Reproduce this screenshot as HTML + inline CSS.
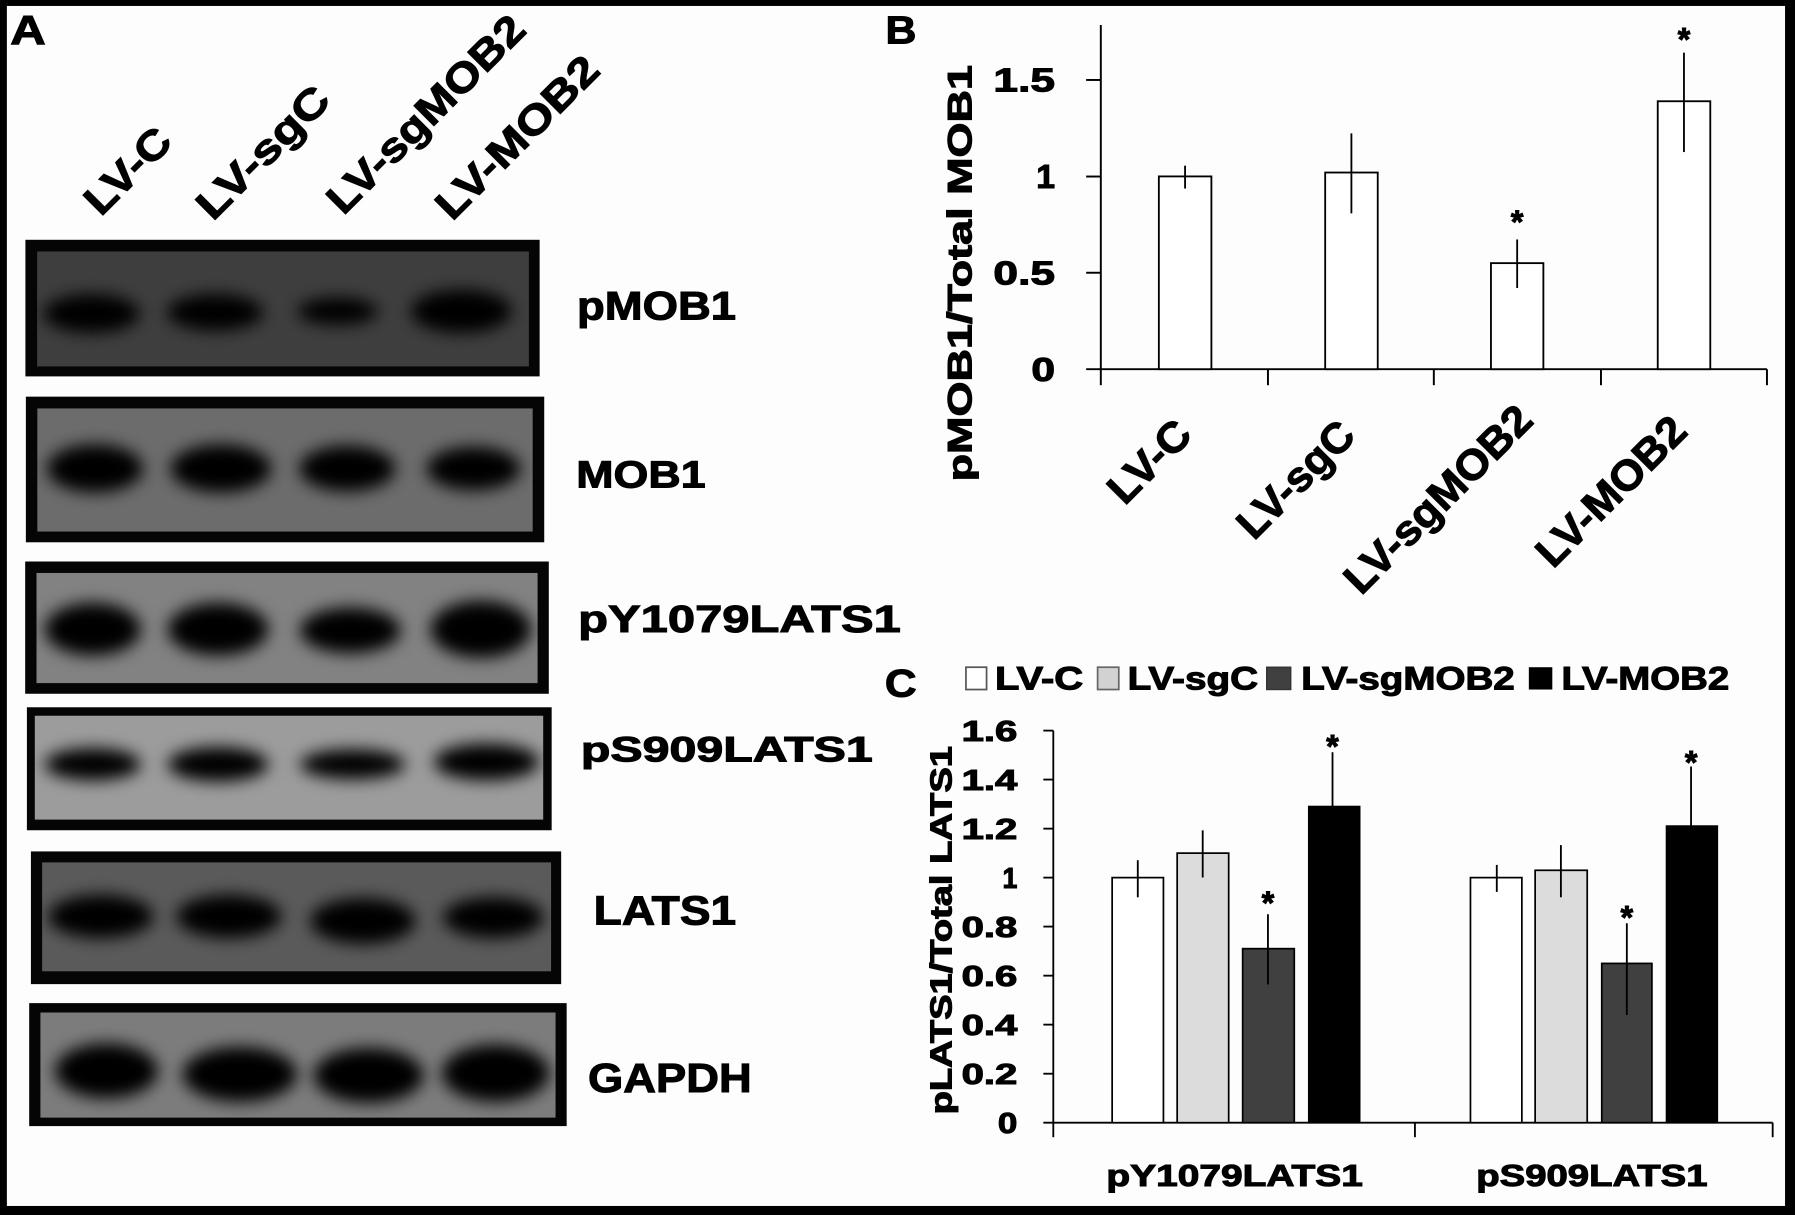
<!DOCTYPE html>
<html><head><meta charset="utf-8"><style>
html,body{margin:0;padding:0;background:#fff;}
svg{display:block;}
text{font-family:"Liberation Sans",Arial,sans-serif;font-weight:bold;fill:#000;stroke:#000;stroke-width:0.9px;}
</style></head><body>
<svg width="1795" height="1215" viewBox="0 0 1568 1062" preserveAspectRatio="none" xmlns="http://www.w3.org/2000/svg">
<defs>
<filter id="bl" x="-50%" y="-100%" width="200%" height="300%"><feGaussianBlur stdDeviation="7"/></filter>
<clipPath id="c1"><rect x="32.4" y="219.8" width="429.6" height="100.5"/></clipPath>
<clipPath id="c2"><rect x="32.6" y="357" width="432.7" height="107.6"/></clipPath>
<clipPath id="c3"><rect x="31.9" y="500.8" width="437.7" height="96.3"/></clipPath>
<clipPath id="c4"><rect x="30.4" y="625.6" width="444.1" height="90.8"/></clipPath>
<clipPath id="c5"><rect x="36.8" y="753.8" width="444.6" height="95.2"/></clipPath>
<clipPath id="c6"><rect x="35.3" y="885" width="450" height="91.9"/></clipPath>
</defs>
<rect x="0" y="0" width="1568" height="1062" fill="#000"/>
<rect x="6" y="5.2" width="1553.3" height="1048.9" fill="#fdfdfd"/>

<!-- Panel A -->
<text x="9" y="38.4" font-size="36" textLength="31" lengthAdjust="spacingAndGlyphs">A</text>
<g font-size="36">
<text transform="translate(88,190) rotate(-45)" textLength="91" lengthAdjust="spacingAndGlyphs">LV-C</text>
<text transform="translate(186,194) rotate(-45)" textLength="148" lengthAdjust="spacingAndGlyphs">LV-sgC</text>
<text transform="translate(300,189) rotate(-45)" textLength="228" lengthAdjust="spacingAndGlyphs">LV-sgMOB2</text>
<text transform="translate(395,194) rotate(-45)" textLength="185" lengthAdjust="spacingAndGlyphs">LV-MOB2</text>
</g>

<!-- blot 1 pMOB1 -->
<rect x="22.2" y="209.6" width="449.2" height="119.4" fill="#050505"/>
<rect x="32.4" y="219.8" width="429.6" height="100.5" fill="#3e3e3e"/>
<g clip-path="url(#c1)" filter="url(#bl)" fill="#000">
<ellipse cx="80" cy="274" rx="42" ry="17"/>
<ellipse cx="188" cy="273" rx="42" ry="16"/>
<ellipse cx="295" cy="272" rx="35" ry="12"/>
<ellipse cx="403" cy="272" rx="44" ry="19"/>
</g>
<!-- blot 2 MOB1 -->
<rect x="22.6" y="346.7" width="452.8" height="127.3" fill="#050505"/>
<rect x="32.6" y="357" width="432.7" height="107.6" fill="#6c6c6c"/>
<g clip-path="url(#c2)" filter="url(#bl)" fill="#000">
<ellipse cx="83" cy="409.5" rx="42" ry="21"/>
<ellipse cx="193" cy="409.5" rx="44" ry="21"/>
<ellipse cx="303.4" cy="409.5" rx="42" ry="20"/>
<ellipse cx="413.7" cy="409.5" rx="41" ry="19"/>
</g>
<!-- blot 3 pY1079 -->
<rect x="22" y="490.8" width="457.4" height="115.6" fill="#050505"/>
<rect x="31.9" y="500.8" width="437.7" height="96.3" fill="#828282"/>
<g clip-path="url(#c3)" filter="url(#bl)" fill="#000">
<ellipse cx="81" cy="550" rx="42" ry="23"/>
<ellipse cx="190.5" cy="550" rx="44" ry="23"/>
<ellipse cx="306" cy="551" rx="44" ry="20"/>
<ellipse cx="420" cy="550" rx="44" ry="25"/>
</g>
<!-- blot 4 pS909 -->
<rect x="23.5" y="618.2" width="458.4" height="107.5" fill="#050505"/>
<rect x="30.4" y="625.6" width="444.1" height="90.8" fill="#9c9c9c"/>
<g clip-path="url(#c4)" filter="url(#bl)" fill="#000">
<ellipse cx="81" cy="668" rx="42" ry="14"/>
<ellipse cx="190.5" cy="668" rx="44" ry="15"/>
<ellipse cx="308" cy="668" rx="46" ry="13"/>
<ellipse cx="425" cy="666" rx="46" ry="16"/>
</g>
<!-- blot 5 LATS1 -->
<rect x="27" y="744.2" width="463.2" height="116" fill="#050505"/>
<rect x="36.8" y="753.8" width="444.6" height="95.2" fill="#5a5a5a"/>
<g clip-path="url(#c5)" filter="url(#bl)" fill="#000">
<ellipse cx="88" cy="801" rx="46" ry="19"/>
<ellipse cx="200" cy="801" rx="46" ry="19"/>
<ellipse cx="317" cy="805" rx="46" ry="20"/>
<ellipse cx="431" cy="802" rx="44" ry="18"/>
</g>
<!-- blot 6 GAPDH -->
<rect x="25.5" y="876.8" width="469.5" height="107.5" fill="#050505"/>
<rect x="35.3" y="885" width="450" height="91.9" fill="#7c7c7c"/>
<g clip-path="url(#c6)" filter="url(#bl)" fill="#000">
<ellipse cx="93" cy="936" rx="45" ry="24"/>
<ellipse cx="209.5" cy="939" rx="50" ry="24"/>
<ellipse cx="322" cy="940" rx="48" ry="24"/>
<ellipse cx="433" cy="938" rx="47" ry="25"/>
</g>

<text x="504" y="279.2" font-size="35" textLength="139" lengthAdjust="spacingAndGlyphs">pMOB1</text>
<text x="503.4" y="426" font-size="33" textLength="113" lengthAdjust="spacingAndGlyphs">MOB1</text>
<text x="505" y="552.6" font-size="33.5" textLength="282" lengthAdjust="spacingAndGlyphs">pY1079LATS1</text>
<text x="507.4" y="665.7" font-size="31" textLength="255" lengthAdjust="spacingAndGlyphs">pS909LATS1</text>
<text x="518.6" y="808.3" font-size="36" textLength="124.5" lengthAdjust="spacingAndGlyphs">LATS1</text>
<text x="513.7" y="954.6" font-size="36" textLength="143" lengthAdjust="spacingAndGlyphs">GAPDH</text>

<!-- Panel B -->
<text x="773.5" y="37.9" font-size="34" textLength="27" lengthAdjust="spacingAndGlyphs">B</text>
<text transform="translate(848.8,238.8) rotate(-90)" text-anchor="middle" font-size="30" textLength="364" lengthAdjust="spacingAndGlyphs">pMOB1/Total MOB1</text>
<g stroke="#000" stroke-width="1.7" fill="none">
<line x1="961.6" y1="21.8" x2="961.6" y2="322.7"/>
<line x1="948.8" y1="322.7" x2="1543.5" y2="322.7"/>
<line x1="948.8" y1="238.4" x2="961.6" y2="238.4"/>
<line x1="948.8" y1="154.3" x2="961.6" y2="154.3"/>
<line x1="948.8" y1="69.9" x2="961.6" y2="69.9"/>
<line x1="961.6" y1="322.7" x2="961.6" y2="336.7"/>
<line x1="1107.6" y1="322.7" x2="1107.6" y2="336.7"/>
<line x1="1252.5" y1="322.7" x2="1252.5" y2="336.7"/>
<line x1="1398.5" y1="322.7" x2="1398.5" y2="336.7"/>
<line x1="1543.5" y1="322.7" x2="1543.5" y2="336.7"/>
</g>
<g font-size="29" text-anchor="end">
<text x="921.6" y="80.1" textLength="53.8" lengthAdjust="spacingAndGlyphs">1.5</text>
<text x="921.6" y="164.5" textLength="16.4" lengthAdjust="spacingAndGlyphs">1</text>
<text x="921.6" y="248.6" textLength="53.8" lengthAdjust="spacingAndGlyphs">0.5</text>
<text x="921.6" y="332.9" textLength="20.7" lengthAdjust="spacingAndGlyphs">0</text>
</g>
<g stroke="#000" stroke-width="1.6" fill="#fff">
<rect x="1012.3" y="154.2" width="45.9" height="168.5"/>
<rect x="1157.6" y="150.8" width="45.9" height="171.9"/>
<rect x="1302.4" y="230" width="45.8" height="92.7"/>
<rect x="1448.1" y="88.5" width="45.9" height="234.2"/>
</g>
<g stroke="#000" stroke-width="1.6">
<line x1="1035.2" y1="144.8" x2="1035.2" y2="164.8"/>
<line x1="1180.5" y1="116.6" x2="1180.5" y2="186.5"/>
<line x1="1325.3" y1="209.3" x2="1325.3" y2="251.7"/>
<line x1="1471" y1="46" x2="1471" y2="132.9"/>
</g>
<g font-size="28" text-anchor="middle">
<text x="1325.3" y="203.5">*</text>
<text x="1471" y="44.2">*</text>
</g>
<g font-size="37">
<text transform="translate(982.4,442.6) rotate(-45)" textLength="86" lengthAdjust="spacingAndGlyphs">LV-C</text>
<text transform="translate(1095.4,473.2) rotate(-45)" textLength="128" lengthAdjust="spacingAndGlyphs">LV-sgC</text>
<text transform="translate(1189,521.2) rotate(-45)" textLength="215" lengthAdjust="spacingAndGlyphs">LV-sgMOB2</text>
<text transform="translate(1356.6,497.9) rotate(-45)" textLength="168.5" lengthAdjust="spacingAndGlyphs">LV-MOB2</text>
</g>

<!-- Panel C -->
<text x="773" y="608.6" font-size="34" textLength="27.7" lengthAdjust="spacingAndGlyphs">C</text>
<rect x="843.8" y="583.2" width="18" height="19.5" fill="#fff" stroke="#555" stroke-width="1.5"/>
<rect x="958.8" y="583.2" width="18.5" height="19.5" fill="#d2d2d2" stroke="#666" stroke-width="1.5"/>
<rect x="1106.5" y="583.2" width="21" height="19.5" fill="#404040" stroke="#333" stroke-width="1.2"/>
<rect x="1335.5" y="583.2" width="20.5" height="19.5" fill="#000"/>
<g font-size="28">
<text x="869.2" y="602.7" textLength="77" lengthAdjust="spacingAndGlyphs">LV-C</text>
<text x="985" y="602.7" textLength="114" lengthAdjust="spacingAndGlyphs">LV-sgC</text>
<text x="1136.7" y="602.7" textLength="186.5" lengthAdjust="spacingAndGlyphs">LV-sgMOB2</text>
<text x="1364" y="602.7" textLength="146.5" lengthAdjust="spacingAndGlyphs">LV-MOB2</text>
</g>
<text transform="translate(831,813.1) rotate(-90)" text-anchor="middle" font-size="26.5" textLength="322" lengthAdjust="spacingAndGlyphs">pLATS1/Total LATS1</text>
<g stroke="#000" stroke-width="1.6" fill="none">
<line x1="920.1" y1="638.6" x2="920.1" y2="981.3"/>
<line x1="911.4" y1="981.3" x2="1548.5" y2="981.3"/>
<line x1="911.4" y1="638.6" x2="920.1" y2="638.6"/>
<line x1="911.4" y1="681.4" x2="920.1" y2="681.4"/>
<line x1="911.4" y1="724.3" x2="920.1" y2="724.3"/>
<line x1="911.4" y1="767.1" x2="920.1" y2="767.1"/>
<line x1="911.4" y1="809.9" x2="920.1" y2="809.9"/>
<line x1="911.4" y1="852.8" x2="920.1" y2="852.8"/>
<line x1="911.4" y1="895.6" x2="920.1" y2="895.6"/>
<line x1="911.4" y1="938.5" x2="920.1" y2="938.5"/>
<line x1="920.1" y1="981.3" x2="920.1" y2="994"/>
<line x1="1236" y1="981.3" x2="1236" y2="994"/>
<line x1="1548.5" y1="981.3" x2="1548.5" y2="994"/>
</g>
<g font-size="25" text-anchor="end">
<text x="888.7" y="647.6" textLength="48.7" lengthAdjust="spacingAndGlyphs">1.6</text>
<text x="888.7" y="690.4" textLength="48.7" lengthAdjust="spacingAndGlyphs">1.4</text>
<text x="888.7" y="733.3" textLength="48.7" lengthAdjust="spacingAndGlyphs">1.2</text>
<text x="888.7" y="776.1" textLength="13" lengthAdjust="spacingAndGlyphs">1</text>
<text x="888.7" y="818.9" textLength="48.7" lengthAdjust="spacingAndGlyphs">0.8</text>
<text x="888.7" y="861.8" textLength="48.7" lengthAdjust="spacingAndGlyphs">0.6</text>
<text x="888.7" y="904.6" textLength="48.7" lengthAdjust="spacingAndGlyphs">0.4</text>
<text x="888.7" y="947.5" textLength="48.7" lengthAdjust="spacingAndGlyphs">0.2</text>
<text x="888.7" y="990.3" textLength="17" lengthAdjust="spacingAndGlyphs">0</text>
</g>
<g stroke="#000" stroke-width="1.5">
<rect x="971.5" y="767.1" width="44.8" height="214.2" fill="#fff"/>
<rect x="1028.3" y="745.7" width="45" height="235.6" fill="#dcdcdc"/>
<rect x="1085.5" y="829.2" width="45.1" height="152.1" fill="#404040"/>
<rect x="1143.3" y="705" width="44.4" height="276.3" fill="#000"/>
<rect x="1284.5" y="767.1" width="44.9" height="214.2" fill="#fff"/>
<rect x="1341" y="760.7" width="45.5" height="220.6" fill="#dcdcdc"/>
<rect x="1399.2" y="842.1" width="43.8" height="139.2" fill="#404040"/>
<rect x="1455.8" y="722.1" width="44.3" height="259.2" fill="#000"/>
</g>
<g stroke="#000" stroke-width="1.6">
<line x1="993.9" y1="751.9" x2="993.9" y2="784.3"/>
<line x1="1050.6" y1="725.8" x2="1050.6" y2="767"/>
<line x1="1107.6" y1="799.1" x2="1107.6" y2="860.5"/>
<line x1="1164" y1="657.5" x2="1164" y2="753.5"/>
<line x1="1307.5" y1="756" x2="1307.5" y2="779.6"/>
<line x1="1363.5" y1="738.7" x2="1363.5" y2="784.3"/>
<line x1="1421.1" y1="807" x2="1421.1" y2="887.2"/>
<line x1="1477.2" y1="670" x2="1477.2" y2="774"/>
</g>
<g font-size="28" text-anchor="middle">
<text x="1107.6" y="798.8">*</text>
<text x="1164" y="661.9">*</text>
<text x="1421.1" y="811.4">*</text>
<text x="1477.2" y="676">*</text>
</g>
<g font-size="27">
<text x="966.5" y="1036.7" textLength="224" lengthAdjust="spacingAndGlyphs">pY1079LATS1</text>
<text x="1289.6" y="1036.7" textLength="202" lengthAdjust="spacingAndGlyphs">pS909LATS1</text>
</g>
</svg>
</body></html>
